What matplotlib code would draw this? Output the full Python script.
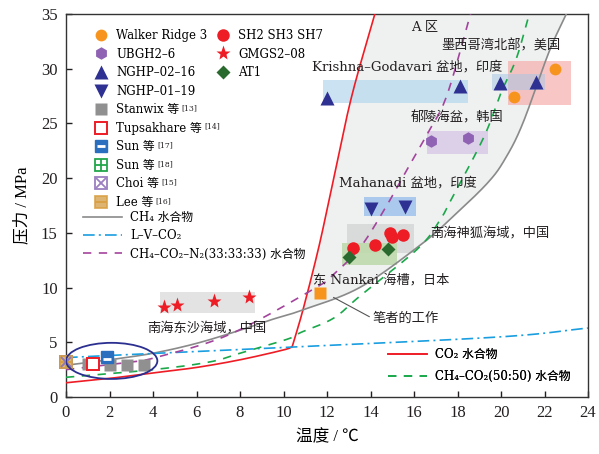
import matplotlib
matplotlib.use("Agg")
import matplotlib.pyplot as plt
import numpy as np
from matplotlib.patches import Rectangle, Ellipse
from matplotlib.legend_handler import HandlerTuple
from matplotlib.transforms import IdentityTransform

SERIF = ['DejaVu Serif', 'Noto Sans CJK SC']
TIMES = ['Liberation Serif', 'Noto Sans CJK SC']
plt.rcParams['font.family'] = SERIF

# ---- phase-equilibrium curves (temperature in degC, pressure in MPa) ----
co2_low_T = [0, 2, 4, 6, 8, 10, 10.4]
co2_low_P = [1.3, 1.7, 2.2, 2.7, 3.4, 4.3, 4.6]
co2_high_T = [10.4, 10.9, 11.6, 12.15, 13.1, 14.2]
co2_high_P = [4.6, 8.0, 13.5, 18.5, 27.2, 35.0]
ch4_T = [0, 2, 4, 6, 8, 9.5, 10.8, 13.5, 16.3, 17.8, 19.4, 20.2, 21.0, 22.2, 23.0]
ch4_P = [2.9, 3.4, 4.0, 4.9, 6.1, 7.1, 7.9, 10.0, 13.9, 16.5, 19.6, 21.8, 25.0, 31.5, 35.0]
lv_T = [0, 2.6, 10.8, 20.0, 24.0]
lv_P = [3.6, 3.85, 4.6, 5.5, 6.3]
mix3_T = [0, 1.7, 3.0, 4.1, 7.5, 11.5, 12.3, 13.5, 14.6, 15.6, 16.6, 17.5, 18.6]
mix3_P = [2.5, 2.9, 3.2, 3.6, 5.7, 10.0, 11.2, 13.6, 17.0, 20.5, 24.0, 27.5, 35.0]
mix2_T = [0, 4, 6.6, 8, 10.2, 10.8, 12.3, 13.5, 16.2, 17.2, 17.7, 19.2, 20.0, 20.7, 21.3]
mix2_P = [1.8, 2.5, 3.2, 4.0, 5.3, 5.9, 7.2, 9.2, 13.6, 16.2, 18.0, 23.7, 27.8, 30.9, 35.0]

# ---- field / laboratory hydrate conditions ----
walker_T, walker_P = [22.5, 20.6], [30.0, 27.4]
ubgh_T, ubgh_P = [16.8, 18.5], [23.4, 23.7]
nghp0216_T, nghp0216_P = [12.0, 18.1, 19.95, 21.6], [27.3, 28.4, 28.7, 28.8]
nghp0119_T, nghp0119_P = [14.0, 15.6], [17.2, 17.4]
stanwix_T, stanwix_P = [1.0, 2.0, 2.8, 3.6], [3.0, 2.95, 2.95, 2.95]
tups_T, tups_P = [1.25], [3.0]
sun17_T, sun17_P = [1.9], [3.7]
sun18_T, sun18_P = [0.0], [3.2]
choi_T, choi_P = [0.0], [3.2]
lee_T, lee_P = [0.0], [3.2]
sh_T, sh_P = [13.2, 14.2, 14.9, 15.0, 15.5], [13.6, 13.9, 15.0, 14.6, 14.8]
gmgs_T, gmgs_P = [4.5, 5.1, 6.8, 8.4], [8.2, 8.4, 8.8, 9.1]
at1_T, at1_P = [13.0, 14.8], [12.8, 13.5]
nankai_T, nankai_P = [11.7], [9.5]

# site ranges: (T_min, T_max, P_min, P_max, colour, alpha)
site_boxes = [
    (11.8, 18.5, 26.9, 29.0, '#b9d9ee', 0.75),   # Krishna-Godavari
    (20.3, 23.2, 26.7, 30.7, '#f7a8a8', 0.65),   # Gulf of Mexico
    (19.6, 22.0, 28.1, 29.5, '#a9c6e4', 0.55),   # Gulf of Mexico (NGHP)
    (16.6, 19.4, 22.2, 24.3, '#d8cbe6', 0.85),   # Ulleung
    (13.7, 16.1, 16.5, 18.3, '#9fc3ec', 0.85),   # Mahanadi
    (12.9, 16.0, 13.2, 15.8, '#d6d6d6', 0.85),   # Shenhu
    (12.7, 15.2, 12.1, 14.1, '#bcd9a8', 0.85),   # Shenhu AT1
    (4.3, 8.7, 7.7, 9.6, '#dedede', 0.85),       # Dongsha
]

site_labels = [
    ('A 区', 16.5, 33.8),
    ('墨西哥湾北部，美国', 20.0, 32.1),
    ('Krishna–Godavari 盆地，印度', 15.7, 30.2),
    ('郁陵海盆，韩国', 18.0, 25.5),
    ('Mahanadi 盆地，印度', 15.7, 19.6),
    ('南海神狐海域，中国', 19.5, 15.0),
    ('东 Nankai 海槽，日本', 14.5, 10.7),
    ('南海东沙海域，中国', 6.5, 6.3),
]

x_ticks = [0, 2, 4, 6, 8, 10, 12, 14, 16, 18, 20, 22, 24]
y_ticks = [0, 5, 10, 15, 20, 25, 30, 35]


def smooth(xs, ys, n=24):
    """Centripetal-free Catmull-Rom curve through the given points."""
    p = np.column_stack([xs, ys]).astype(float)
    p = np.vstack([2 * p[0] - p[1], p, 2 * p[-1] - p[-2]])
    out = []
    t = np.linspace(0, 1, n, endpoint=False)[:, None]
    for i in range(1, len(p) - 2):
        p0, p1, p2, p3 = p[i - 1], p[i], p[i + 1], p[i + 2]
        seg = 0.5 * ((2 * p1) + (-p0 + p2) * t + (2 * p0 - 5 * p1 + 4 * p2 - p3) * t ** 2
                     + (-p0 + 3 * p1 - 3 * p2 + p3) * t ** 3)
        out.append(seg)
    out.append(p[-2][None, :])
    c = np.vstack(out)
    return c[:, 0], c[:, 1]


W, H = 599, 454
fig = plt.figure(figsize=(W / 100, H / 100), dpi=100)
ax = fig.add_axes([66 / W, 1 - 397 / H, (588 - 66) / W, (397 - 14) / H])
ax.set_xlim(0, 24)
ax.set_ylim(0, 35)

co2_lx, co2_ly = smooth(co2_low_T, co2_low_P)
co2_hx, co2_hy = smooth(co2_high_T, co2_high_P)
co2_x = np.concatenate([co2_lx, co2_hx[1:]])
co2_y = np.concatenate([co2_ly, co2_hy[1:]])
ch4_x, ch4_y = smooth(ch4_T, ch4_P)
lv_x, lv_y = smooth(lv_T, lv_P)
m3_x, m3_y = smooth(mix3_T, mix3_P)
m2_x, m2_y = smooth(mix2_T, mix2_P)

# region A: between the CO2 and CH4 hydrate curves
Pg = np.linspace(4.6, 35, 400)
xl = np.interp(Pg, co2_hy, co2_hx)
xr = np.interp(Pg, ch4_y, ch4_x)
ok = xl <= xr
ax.fill_betweenx(Pg[ok], xl[ok], xr[ok], color='#eff1f1', zorder=0, lw=0)

for x0, x1, p0, p1, c, a in site_boxes:
    ax.add_patch(Rectangle((x0, p0), x1 - x0, p1 - p0, facecolor=c, alpha=a,
                           edgecolor='none', zorder=1))

# curves
ln_co2, = ax.plot(co2_x, co2_y, color='#ee1c25', lw=1.2, zorder=3)
ln_ch4, = ax.plot(ch4_x, ch4_y, color='#8a8a8a', lw=1.2, zorder=3)
ln_lv, = ax.plot(lv_x, lv_y, color='#1a9ee0', lw=1.2, zorder=3,
                 dashes=(7, 2.5, 1.2, 2.5))
ln_m3, = ax.plot(m3_x, m3_y, color='#a3449c', lw=1.2, zorder=3, dashes=(5, 4.5))
ln_m2, = ax.plot(m2_x, m2_y, color='#1aa84a', lw=1.2, zorder=3, dashes=(5, 4.5))

ax.add_patch(Ellipse((2.1, 3.3), 4.2, 3.3, fill=False, edgecolor='#2b2f8f',
                     lw=1.3, zorder=6))

# markers
m_kw = dict(ls='none', zorder=5, clip_on=False)
h_stan, = ax.plot(stanwix_T, stanwix_P, marker='s', ms=8, color='#909090', mec='none', **m_kw)
h_sun18, = ax.plot(sun18_T, sun18_P, marker='s', ms=8, mfc='white', mec='#22a64a', mew=1.3, **m_kw)
h_sun18b, = ax.plot(sun18_T, sun18_P, marker='+', ms=8, color='#22a64a', mew=1.3, **m_kw)
h_choi, = ax.plot(choi_T, choi_P, marker='s', ms=8, mfc='none', mec='#9b7fc0', mew=1.3, **m_kw)
h_choib, = ax.plot(choi_T, choi_P, marker='x', ms=7, color='#9b7fc0', mew=1.3, **m_kw)
h_lee, = ax.plot(lee_T, lee_P, marker='s', ms=9, mfc='#d9a75a', mec='#d9a042', mew=1.3,
                 alpha=0.85, **m_kw)
h_leeb, = ax.plot(lee_T, lee_P, marker='_', ms=8, color='#d9a042', mew=1.3, **m_kw)
ax.plot(choi_T, choi_P, marker='x', ms=7, color='#8c77b8', mew=1.3, **m_kw)
h_tups, = ax.plot(tups_T, tups_P, marker='s', ms=8, mfc='white', mec='#ee1c25', mew=1.4, **m_kw)
h_sun17, = ax.plot(sun17_T, sun17_P, marker='s', ms=8, color='#2a6fbf', mec='#2a6fbf', **m_kw)
h_sun17b, = ax.plot(sun17_T, [p - 0.25 for p in sun17_P], marker='_', ms=6, color='white',
                    mew=2.0, **m_kw)
h_walker, = ax.plot(walker_T, walker_P, marker='o', ms=8.5, color='#f7941d', mec='none', **m_kw)
h_ubgh, = ax.plot(ubgh_T, ubgh_P, marker='h', ms=9, color='#8f62b3', mec='none', **m_kw)
h_n16, = ax.plot(nghp0216_T, nghp0216_P, marker='^', ms=10, color='#2e3192', mec='none', **m_kw)
h_n19, = ax.plot(nghp0119_T, nghp0119_P, marker='v', ms=10, color='#2e3192', mec='none', **m_kw)
h_sh, = ax.plot(sh_T, sh_P, marker='o', ms=9, color='#ee1c25', mec='none', **m_kw)
h_gm, = ax.plot(gmgs_T, gmgs_P, marker='*', ms=11, color='#ee1c25', mec='none', **m_kw)
h_at1, = ax.plot(at1_T, at1_P, marker='D', ms=7.5, color='#2b6a2f', mec='none', **m_kw)
ax.plot(nankai_T, nankai_P, marker='s', ms=8.5, color='#f7941d', mec='none', **m_kw)

# texts
for txt, x, y in site_labels:
    ax.text(x, y, txt, ha='center', va='center', fontsize=9.5, color='#231f20',
            family=SERIF, zorder=7)
ax.annotate('笔者的工作', xy=(12.3, 9.1), xytext=(15.6, 7.2), ha='center', va='center',
            fontsize=9.5, color='#231f20', family=SERIF,
            arrowprops=dict(arrowstyle='-', color='#555555', lw=0.8, shrinkA=0, shrinkB=0,
                            relpos=(0.0, 0.5)))

# axes styling
ax.set_xticks(x_ticks)
ax.set_yticks(y_ticks)
ax.tick_params(direction='in', length=4, width=1, labelsize=12, pad=6, colors='#231f20')
for lab in ax.get_xticklabels() + ax.get_yticklabels():
    lab.set_family(TIMES)
for s in ax.spines.values():
    s.set_color('#333333')
    s.set_linewidth(1.0)
ax.set_xlabel('温度 / ℃', fontsize=12, family=TIMES, labelpad=6)
ax.set_ylabel('压力 / MPa', fontsize=12, family=TIMES, labelpad=8)


# legends
def place(handles, labels, x_px, y_px, **kw):
    leg = ax.legend(handles, labels, loc='upper left',
                    bbox_to_anchor=(x_px, H - y_px), bbox_transform=IdentityTransform(),
                    frameon=False, borderpad=0, borderaxespad=0,
                    prop={'family': SERIF, 'size': 8.5},
                    handler_map={tuple: HandlerTuple(ndivide=1)}, **kw)
    ax.add_artist(leg)
    return leg


leg1 = place([h_walker, h_ubgh, h_n16, h_n19, h_stan, h_tups, (h_sun17, h_sun17b),
              (h_sun18, h_sun18b), (h_choi, h_choib), (h_lee, h_leeb)],
             ['Walker Ridge 3', 'UBGH2–6', 'NGHP–02–16', 'NGHP–01–19', 'Stanwix 等',
              'Tupsakhare 等', 'Sun 等', 'Sun 等', 'Choi 等', 'Lee 等'],
             95, 29, handlelength=1.0, handletextpad=0.8, labelspacing=0.47)
leg2 = place([h_sh, h_gm, h_at1], ['SH2 SH3 SH7', 'GMGS2–08', 'AT1'], 217, 29,
             handlelength=1.0, handletextpad=0.8, labelspacing=0.47)
leg3 = place([ln_ch4, ln_lv, ln_m3], ['CH₄ 水合物', 'L–V–CO₂', 'CH₄–CO₂–N₂(33:33:33) 水合物'],
             83, 211, handlelength=3.3, handletextpad=0.7, labelspacing=0.45)
leg4 = place([ln_co2, ln_m2], ['CO₂ 水合物', 'CH₄–CO₂(50:50) 水合物'], 388, 348,
             handlelength=3.3, handletextpad=0.7, labelspacing=0.75)

# reference marks after the legend labels
fig.canvas.draw()
refs = ['', '', '', '', '[13]', '[14]', '[17]', '[18]', '[15]', '[16]']
for t, r in zip(leg1.get_texts(), refs):
    if r:
        bb = t.get_window_extent()
        fig.text(bb.x1 + 2, bb.y1 - 1, r, transform=IdentityTransform(), fontsize=5.5,
                 va='top', ha='left', family=SERIF, color='#231f20')

fig.savefig('out.png', dpi=100)
